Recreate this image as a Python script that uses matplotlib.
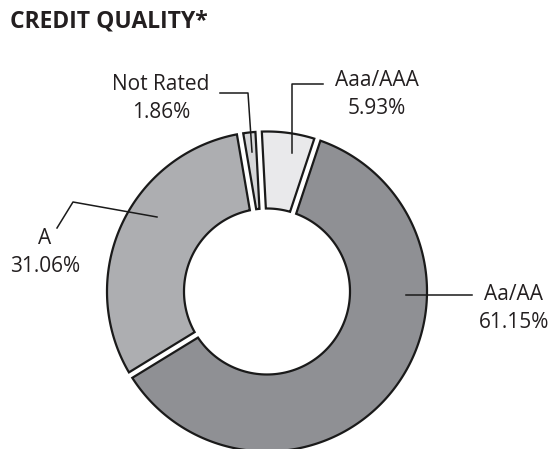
from matplotlib import pyplot as plt
from matplotlib.patches import Polygon
import numpy as np

labels = ["Aaa/AAA", "Aa/AA", "A", "Not Rated"]
values = [5.93, 61.15, 31.06, 1.86]
colors = ["#e9e9eb", "#8f9094", "#adaeb1", "#d5d6d8"]

# label text positions (pixels, middle between the two lines) and leader lines
label_pos = {"Aaa/AAA": (377, 94), "Aa/AA": (514, 308), "A": (45, 252), "Not Rated": (161, 99)}
leaders = {
    "Aaa/AAA": [(323, 84), (292, 84), (292, 153)],
    "Aa/AA": [(472, 295), (406, 295)],
    "A": [(57, 228), (73, 202), (157, 217)],
    "Not Rated": [(220, 93), (248, 93), (252, 152)],
}

cx, cy = 267, 291.5
R, r = 160, 83
half_gap = 3.2
start = 93


def ring_wedge(t1, t2):
    # t1 > t2 (clockwise), degrees; sides offset to leave an even gap
    a1, a2 = np.radians(t2), np.radians(t1)
    oa = np.arcsin(half_gap / R)
    ia = np.arcsin(half_gap / r)
    to = np.linspace(a1 + oa, a2 - oa, 200)
    ti = np.linspace(a2 - ia, a1 + ia, 120)
    xs = np.concatenate([cx + R * np.cos(to), cx + r * np.cos(ti)])
    ys = np.concatenate([cy - R * np.sin(to), cy - r * np.sin(ti)])
    return np.column_stack([xs, ys])


fig = plt.figure(figsize=(5.51, 4.49), dpi=100)
ax = fig.add_axes([0, 0, 1, 1])
ax.set_xlim(0, 551)
ax.set_ylim(449, 0)
ax.axis("off")

plt.rcParams['font.family'] = ['Open Sans', 'DejaVu Sans']

ang = start
for lab, v, c in zip(labels, values, colors):
    t1 = ang
    t2 = ang - v * 3.6
    ax.add_patch(Polygon(ring_wedge(t1, t2), closed=True, facecolor=c,
                         edgecolor="#1a1a1a", linewidth=1.6, zorder=2))
    ang = t2

for lab, v in zip(labels, values):
    x, y = label_pos[lab]
    ax.text(x, y - 14, lab, ha="center", va="center", fontsize=15, color="#231f20")
    ax.text(x, y + 14, f"{v:.2f}%", ha="center", va="center", fontsize=15, color="#231f20")
    pts = np.array(leaders[lab])
    ax.plot(pts[:, 0], pts[:, 1], color="#1a1a1a", linewidth=1.1, zorder=3)

fig.text(10 / 551, 1 - 21.5 / 449, "CREDIT QUALITY*", ha="left", va="center",
         fontsize=16.5, fontweight="bold", color="#231f20")

fig.savefig("out.png", dpi=100)
plt.close()
